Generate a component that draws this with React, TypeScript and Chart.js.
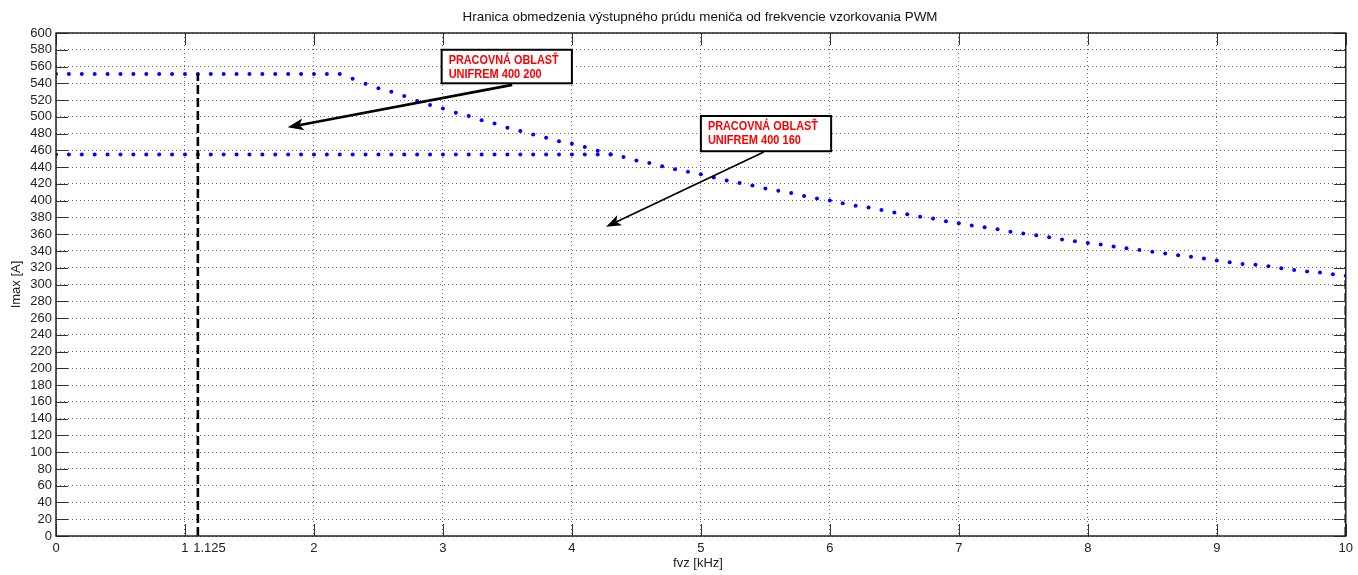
import React, { useEffect, useRef } from "react";
import { Chart, registerables } from "chart.js";

Chart.register(...registerables);

// ---- Data ----
const xValues = [
  0, 0.1, 0.2, 0.3, 0.4, 0.5, 0.6, 0.7, 0.8, 0.9,
  1, 1.1, 1.2, 1.3, 1.4, 1.5, 1.6, 1.7, 1.8, 1.9,
  2, 2.1, 2.2, 2.3, 2.4, 2.5, 2.6, 2.7, 2.8, 2.9,
  3, 3.1, 3.2, 3.3, 3.4, 3.5, 3.6, 3.7, 3.8, 3.9,
  4, 4.1, 4.2, 4.3, 4.4, 4.5, 4.6, 4.7, 4.8, 4.9,
  5, 5.1, 5.2, 5.3, 5.4, 5.5, 5.6, 5.7, 5.8, 5.9,
  6, 6.1, 6.2, 6.3, 6.4, 6.5, 6.6, 6.7, 6.8, 6.9,
  7, 7.1, 7.2, 7.3, 7.4, 7.5, 7.6, 7.7, 7.8, 7.9,
  8, 8.1, 8.2, 8.3, 8.4, 8.5, 8.6, 8.7, 8.8, 8.9,
  9, 9.1, 9.2, 9.3, 9.4, 9.5, 9.6, 9.7, 9.8, 9.9,
  10,
];

// Imax limit, UNIFREM 400 200 [A]
const imax400_200 = [
  551, 551, 551, 551, 551, 551, 551, 551, 551, 551,
  551, 551, 551, 551, 551, 551, 551, 551, 551, 551,
  551, 551, 551, 545.5, 539.5, 534, 530, 525, 519, 514,
  510, 505, 501, 496, 492, 487, 483, 479, 475, 471,
  468, 464, 459.5, 455.5, 452, 448, 445, 441, 437.6, 434.4,
  431.6, 427.5, 424, 421, 418, 414.5, 411.7, 409, 405.7, 402.5,
  400.3, 397, 394, 391.8, 389, 386, 383.8, 380.7, 378.7, 375.5,
  373.2, 370.5, 368.4, 366, 363, 360.8, 358.8, 356.4, 353.8, 351.6,
  349.6, 347.6, 345.2, 343.3, 341.3, 339, 337, 335, 333, 331,
  328.6, 326.6, 324.6, 323.5, 321.8, 319.4, 317.4, 315.4, 314.2, 312.3,
  310.3,
];

// Imax limit, UNIFREM 400 160 [A] (flat part; above 4.3 kHz it coincides with the curve above)
const imax400_160 = [
  455, 455, 455, 455, 455, 455, 455, 455, 455, 455,
  455, 455, 455, 455, 455, 455, 455, 455, 455, 455,
  455, 455, 455, 455, 455, 455, 455, 455, 455, 455,
  455, 455, 455, 455, 455, 455, 455, 455, 455, 455,
  455, 455, 455, 455,
];

// Vertical dashed limits
const limitLineX = [1.1, 10];
const limitLineTop = [551, 310];

const xTicks = [0, 1, 2, 3, 4, 5, 6, 7, 8, 9, 10];
const extraXLabel = "1.125";

const titleText = "Hranica obmedzenia výstupného prúdu meniča od frekvencie vzorkovania PWM";
const xTitle = "fvz [kHz]";
const yTitle = "Imax [A]";
const noteLine1 = "PRACOVNÁ OBLASŤ";
const note200 = "UNIFREM 400 200";
const note160 = "UNIFREM 400 160";

const FONT = '"Liberation Sans", Arial, sans-serif';

export default function App() {
  const ref = useRef<HTMLCanvasElement | null>(null);

  useEffect(() => {
    document.body.style.margin = "0";
    const canvas = ref.current!;

    const toPts = (ys: number[]) => ys.map((y, i) => ({ x: xValues[i], y }));

    const overlay = {
      id: "overlay",
      afterDatasetsDraw(chart: any) {
        const ctx: CanvasRenderingContext2D = chart.ctx;
        const { left, right, top, bottom } = chart.chartArea;
        const xs = chart.scales.x;
        const ys = chart.scales.y;
        const px = (v: number) => xs.getPixelForValue(v);
        const py = (v: number) => ys.getPixelForValue(v);
        ctx.save();

        // inside ticks
        ctx.strokeStyle = "#333";
        ctx.lineWidth = 1;
        ctx.beginPath();
        for (let v = 0; v <= 600; v += 20) {
          const y = Math.round(py(v)) + 0.5;
          ctx.moveTo(left, y);
          ctx.lineTo(left + 12, y);
          ctx.moveTo(right, y);
          ctx.lineTo(right - 12, y);
        }
        for (const v of xTicks) {
          const x = Math.round(px(v)) + 0.5;
          ctx.moveTo(x, bottom);
          ctx.lineTo(x, bottom - 12);
          ctx.moveTo(x, top);
          ctx.lineTo(x, top + 12);
        }
        ctx.stroke();

        // axes box
        ctx.strokeStyle = "#222";
        ctx.lineWidth = 1.5;
        ctx.strokeRect(left, top, right - left, bottom - top);

        // annotation boxes + arrows
        const drawArrow = (x1: number, y1: number, x2: number, y2: number, w: number, hl: number, hw: number) => {
          const ang = Math.atan2(y2 - y1, x2 - x1);
          const bx = x2 - hl * Math.cos(ang);
          const by = y2 - hl * Math.sin(ang);
          ctx.strokeStyle = "#000";
          ctx.lineWidth = w;
          ctx.beginPath();
          ctx.moveTo(x1, y1);
          ctx.lineTo(bx + (hl * 0.3) * Math.cos(ang), by + (hl * 0.3) * Math.sin(ang));
          ctx.stroke();
          const nx = -Math.sin(ang), ny = Math.cos(ang);
          ctx.fillStyle = "#000";
          ctx.beginPath();
          ctx.moveTo(x2, y2);
          ctx.lineTo(bx + nx * hw, by + ny * hw);
          ctx.lineTo(bx + hl * 0.25 * Math.cos(ang), by + hl * 0.25 * Math.sin(ang));
          ctx.lineTo(bx - nx * hw, by - ny * hw);
          ctx.closePath();
          ctx.fill();
        };
        const drawBox = (x0: number, x1: number, y0: number, y1: number, l2: string) => {
          const L = px(x0), R = px(x1), T = py(y1), B = py(y0);
          ctx.fillStyle = "#fff";
          ctx.fillRect(L, T, R - L, B - T);
          ctx.strokeStyle = "#000";
          ctx.lineWidth = 2;
          ctx.strokeRect(L, T, R - L, B - T);
          ctx.fillStyle = "#ff0000";
          ctx.font = `bold 12px ${FONT}`;
          ctx.textAlign = "left";
          ctx.textBaseline = "alphabetic";
          ctx.fillText(noteLine1, L + 7, T + 14.5, 110);
          ctx.fillText(l2, L + 7, T + 28.5, 93);
        };

        drawArrow(px(3.537), py(538.2), px(1.796), py(487.5), 2.7, 16, 6);
        drawArrow(px(5.488), py(458), px(4.265), py(369), 1.7, 15, 5.5);
        drawBox(2.99, 4.0, 540, 580, note200);
        drawBox(5.0, 6.01, 459, 501, note160);

        // texts
        ctx.fillStyle = "#222";
        ctx.font = `13px ${FONT}`;
        ctx.textAlign = "center";
        ctx.textBaseline = "middle";
        ctx.fillText(extraXLabel, px(1.19), bottom + 12.8);
        ctx.fillText(xTitle, 698, 563);
        ctx.save();
        ctx.translate(16, (top + bottom) / 2);
        ctx.rotate(-Math.PI / 2);
        ctx.fillText(yTitle, 0, 0);
        ctx.restore();
        ctx.fillStyle = "#111";
        ctx.font = `13.4px ${FONT}`;
        ctx.fillText(titleText, 700, 17);

        ctx.restore();
      },
    };

    const gridCommon = {
      color: "rgba(0,0,0,0.6)",
      lineWidth: 1,
      drawTicks: false,
    };

    const chart = new Chart(canvas, {
      type: "scatter",
      data: {
        datasets: [
          ...limitLineX.map((x, i) => ({
            type: "line" as const,
            data: [
              { x, y: 0 },
              { x, y: limitLineTop[i] },
            ],
            borderColor: "#000",
            borderWidth: 2.6,
            borderDash: [9, 4],
            pointRadius: 0,
            showLine: true,
            fill: false,
          })),
          {
            data: toPts(imax400_200),
            backgroundColor: "#0000ff",
            borderWidth: 0,
            pointRadius: 2,
            showLine: false,
          },
          {
            data: toPts(imax400_160),
            backgroundColor: "#0000ff",
            borderWidth: 0,
            pointRadius: 2,
            showLine: false,
          },
        ],
      } as any,
      options: {
        animation: false,
        responsive: false,
        devicePixelRatio: 1,
        layout: { padding: { top: 33, right: 10, left: 0, bottom: 0 } },
        plugins: {
          legend: { display: false },
          tooltip: { enabled: false },
          title: { display: false },
        },
        scales: {
          x: {
            type: "linear",
            min: 0,
            max: 10,
            afterBuildTicks: (s: any) => {
              s.ticks = xTicks.map((v) => ({ value: v }));
            },
            afterFit: (s: any) => {
              s.height = 39;
            },
            grid: gridCommon,
            border: { display: false, dash: [1, 3] },
            ticks: {
              padding: 5,
              autoSkip: false,
              maxRotation: 0,
              color: "#222",
              font: { family: FONT, size: 13 },
              callback: (v: any) => String(v),
            },
          },
          y: {
            type: "linear",
            min: 0,
            max: 600,
            afterFit: (s: any) => {
              s.width = 56;
            },
            grid: gridCommon,
            border: { display: false, dash: [1, 3] },
            ticks: {
              stepSize: 20,
              padding: 4,
              autoSkip: false,
              color: "#222",
              font: { family: FONT, size: 13 },
            },
          },
        },
      } as any,
      plugins: [overlay],
    });

    return () => chart.destroy();
  }, []);

  return (
    <div style={{ width: 1358, height: 575 }}>
      <canvas ref={ref} width={1358} height={575} style={{ display: "block" }} />
    </div>
  );
}
